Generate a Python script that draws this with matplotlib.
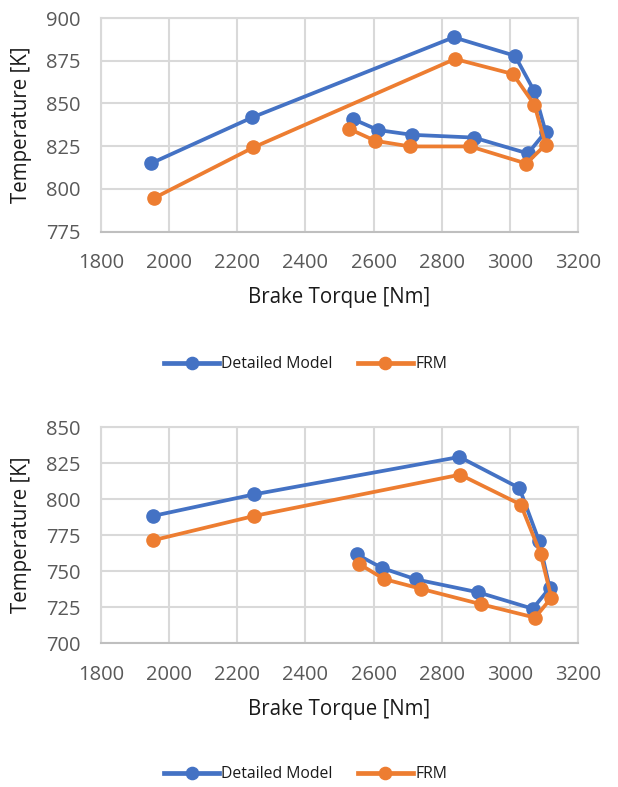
import matplotlib
matplotlib.use("Agg")
import matplotlib.pyplot as plt
from matplotlib.lines import Line2D

plt.rcParams['font.family'] = ['Open Sans', 'DejaVu Sans']

# Top chart
top_det_x = [1948, 2244, 2835, 3015, 3072, 3105, 3053, 2894, 2713, 2613, 2540]
top_det_y = [815, 841.8, 888.7, 877.9, 857, 833.4, 820.7, 830, 831.6, 834.4, 840.8]
top_frm_x = [1955, 2247, 2839, 3009, 3072, 3105, 3048, 2884, 2707, 2605, 2527]
top_frm_y = [794.5, 824.2, 876, 867.2, 849.2, 825.8, 814.8, 824.8, 824.8, 828.1, 835.2]

# Bottom chart
bot_det_x = [1952, 2249, 2852, 3028, 3086, 3117, 3067, 2907, 2724, 2625, 2550]
bot_det_y = [788.2, 803.2, 829.2, 807.6, 770.6, 738.2, 723.8, 735.2, 744.2, 752.1, 761.6]
bot_frm_x = [1952, 2249, 2854, 3032, 3090, 3122, 3074, 2916, 2738, 2631, 2556]
bot_frm_y = [771.3, 788.2, 816.9, 796.1, 762, 731.5, 717.6, 726.9, 737.7, 744.4, 755.1]

x_ticks = [1800, 2000, 2200, 2400, 2600, 2800, 3000, 3200]
top_y_ticks = [775, 800, 825, 850, 875, 900]
bot_y_ticks = [700, 725, 750, 775, 800, 825, 850]

series_names = ["Detailed Model", "FRM"]
x_label = "Brake Torque [Nm]"
y_label = "Temperature [K]"
BLUE = "#4472C4"
ORANGE = "#ED7D31"

W, H = 618, 787
fig = plt.figure(figsize=(W / 100, H / 100), dpi=100)

LEFT, RIGHT = 101, 578

def make_ax(top_px, bottom_px):
    return fig.add_axes([LEFT / W, 1 - bottom_px / H, (RIGHT - LEFT) / W, (bottom_px - top_px) / H])

def style(ax, yt, top_px, bottom_px):
    ax.set_xlim(x_ticks[0], x_ticks[-1])
    ax.set_ylim(yt[0], yt[-1])
    ax.set_xticks(x_ticks)
    ax.set_yticks(yt)
    ax.grid(True, color="#D9D9D9", linewidth=1.5)
    ax.set_axisbelow(True)
    for s in ax.spines.values():
        s.set_color("#D9D9D9")
        s.set_linewidth(1.5)
    ax.spines["bottom"].set_color("#BFBFBF")
    ax.tick_params(axis="x", length=0, labelsize=14.5, labelcolor="#595959", pad=15.5)
    ax.tick_params(axis="y", length=0, labelsize=14.5, labelcolor="#595959", pad=14.5)
    h = bottom_px - top_px
    ax.set_xlabel(x_label, fontsize=14.8, color="#1a1a1a")
    ax.xaxis.label.set_va("center")
    ax.xaxis.set_label_coords(0.5, (bottom_px - (bottom_px + 66.5)) / h)
    ax.set_ylabel(y_label, fontsize=14.8, color="#1a1a1a")
    ax.yaxis.label.set_va("center")
    ax.yaxis.set_label_coords((22 - LEFT) / (RIGHT - LEFT), 0.5)

def draw(ax, dx, dy, fx, fy):
    kw = dict(linewidth=2.7, marker="o", markersize=9.5)
    ax.plot(dx, dy, color=BLUE, label=series_names[0], **kw)
    ax.plot(fx, fy, color=ORANGE, label=series_names[1], **kw)

ax1 = make_ax(18, 231.5)
draw(ax1, top_det_x, top_det_y, top_frm_x, top_frm_y)
style(ax1, top_y_ticks, 18, 231.5)

ax2 = make_ax(427, 643)
draw(ax2, bot_det_x, bot_det_y, bot_frm_x, bot_frm_y)
style(ax2, bot_y_ticks, 427, 643)

def legend(ycenter_px):
    handles = [Line2D([], [], color=BLUE, linewidth=3.4, marker="o", markersize=8.8),
               Line2D([], [], color=ORANGE, linewidth=3.4, marker="o", markersize=8.8)]
    fig.legend(handles, series_names, loc="center", bbox_to_anchor=(305.5 / W, 1 - ycenter_px / H),
               ncol=2, frameon=False, fontsize=11.3, handlelength=3.5, handletextpad=0.15,
               columnspacing=1.6, labelcolor="#1a1a1a", borderpad=0, borderaxespad=0)

legend(364.5)
legend(774)

fig.savefig("out.png", dpi=100)
